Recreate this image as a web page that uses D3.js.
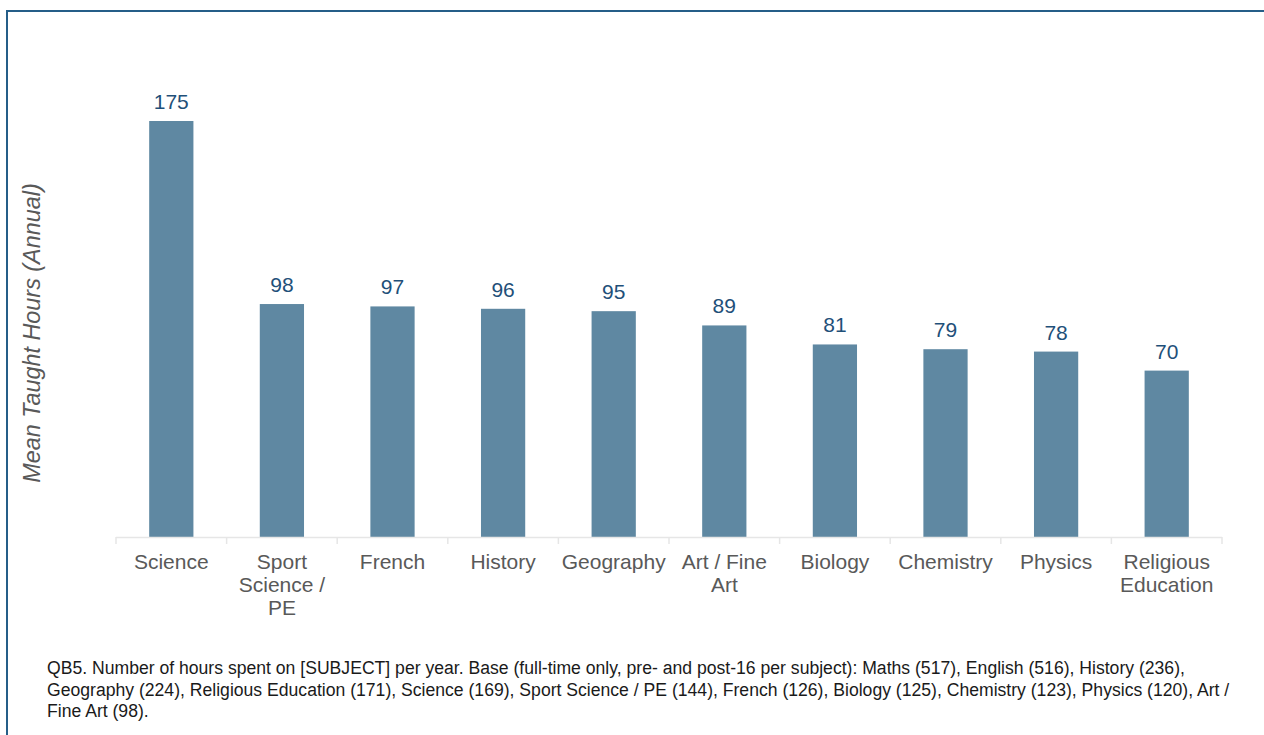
<!DOCTYPE html>
<html>
<head>
<meta charset="utf-8">
<script src="https://cdn.jsdelivr.net/npm/d3@7"></script>
<style>
  html, body { margin: 0; padding: 0; background: #fff; }
  svg { display: block; font-family: "Liberation Sans", Arial, sans-serif; }
</style>
</head>
<body>
<svg id="chart" width="1264" height="735"></svg>
<script>
const categories = ["Science", "Sport Science / PE", "French", "History", "Geography", "Art / Fine Art", "Biology", "Chemistry", "Physics", "Religious Education"];
const values = [175, 98, 97, 96, 95, 89, 81, 79, 78, 70];
const yTitle = "Mean Taught Hours (Annual)";
const footnoteLines = [
  "QB5. Number of hours spent on [SUBJECT] per year. Base (full-time only, pre- and post-16 per subject): Maths (517), English (516), History (236),",
  "Geography (224), Religious Education (171), Science (169), Sport Science / PE (144), French (126), Biology (125), Chemistry (123), Physics (120), Art /",
  "Fine Art (98)."
];

(function() {
const svg = d3.select("#chart");
const W = 1264, H = 735;

// frame
svg.append("rect")
  .attr("x", 7).attr("y", 11)
  .attr("width", W + 10).attr("height", H + 10)
  .attr("fill", "none")
  .attr("stroke", "#255E88")
  .attr("stroke-width", 2);

const pLeft = 116, pRight = 1222, baseline = 537;
const x = d3.scaleBand().domain(categories).range([pLeft, pRight]).paddingInner(0.6).paddingOuter(0.3);
const y = d3.scaleLinear().domain([0, 175]).range([baseline, 121]);

// bars
svg.append("g").selectAll("rect").data(values).join("rect")
  .attr("x", (d, i) => x(categories[i]))
  .attr("y", d => y(d))
  .attr("width", x.bandwidth())
  .attr("height", d => y(0) - y(d))
  .attr("fill", "#5F88A2");

// x axis
const step = x.step();
const axis = svg.append("g").attr("transform", `translate(0,${baseline})`)
  .call(d3.axisBottom(x).tickSize(0).tickPadding(0));
axis.select(".domain").attr("stroke", "#E6E6E6").attr("stroke-width", 1.5)
  .attr("d", `M${pLeft},0.5H${pRight}`);
axis.selectAll(".tick line").remove();
const bounds = d3.range(categories.length + 1).map(i => pLeft + i * step);
axis.selectAll(".bnd").data(bounds).join("line")
  .attr("class", "bnd")
  .attr("x1", d => d).attr("x2", d => d)
  .attr("y1", 0).attr("y2", 7)
  .attr("stroke", "#E6E6E6").attr("stroke-width", 1.5);

axis.selectAll(".tick text")
  .attr("fill", "#595959")
  .attr("font-size", 21)
  .attr("font-family", "Liberation Sans, Arial, sans-serif")
  .attr("dy", null)
  .attr("y", null)
  .each(function(d) {
    const t = d3.select(this);
    const words = d.split(" ");
    t.text(null);
    const lines = [];
    let cur = [];
    const probe = t.append("tspan");
    for (const w of words) {
      const test = cur.concat([w]).join(" ");
      probe.text(test);
      if (probe.node().getComputedTextLength() > 106 && cur.length) {
        lines.push(cur.join(" "));
        cur = [w];
      } else {
        cur.push(w);
      }
    }
    lines.push(cur.join(" "));
    probe.remove();
    lines.forEach((ln, i) => {
      t.append("tspan").attr("x", 0).attr("y", 32 + i * 23).text(ln);
    });
  });

// value labels
svg.append("g").selectAll("text").data(values).join("text")
  .attr("x", (d, i) => x(categories[i]) + x.bandwidth() / 2)
  .attr("y", d => y(d) - 12)
  .attr("text-anchor", "middle")
  .attr("font-size", 21)
  .attr("fill", "#1F5079")
  .text(d => d);

// y title
svg.append("text")
  .attr("transform", `translate(40,${333}) rotate(-90)`)
  .attr("text-anchor", "middle")
  .attr("font-size", 23.4)
  .attr("font-style", "italic")
  .attr("fill", "#595959")
  .text(yTitle);

// footnote
const fn = svg.append("text").attr("font-size", 17.6).attr("fill", "#1a1a1a");
footnoteLines.forEach((ln, i) => {
  fn.append("tspan").attr("x", 47).attr("y", 674 + i * 21.5).text(ln);
});
})();
</script>
</body>
</html>
